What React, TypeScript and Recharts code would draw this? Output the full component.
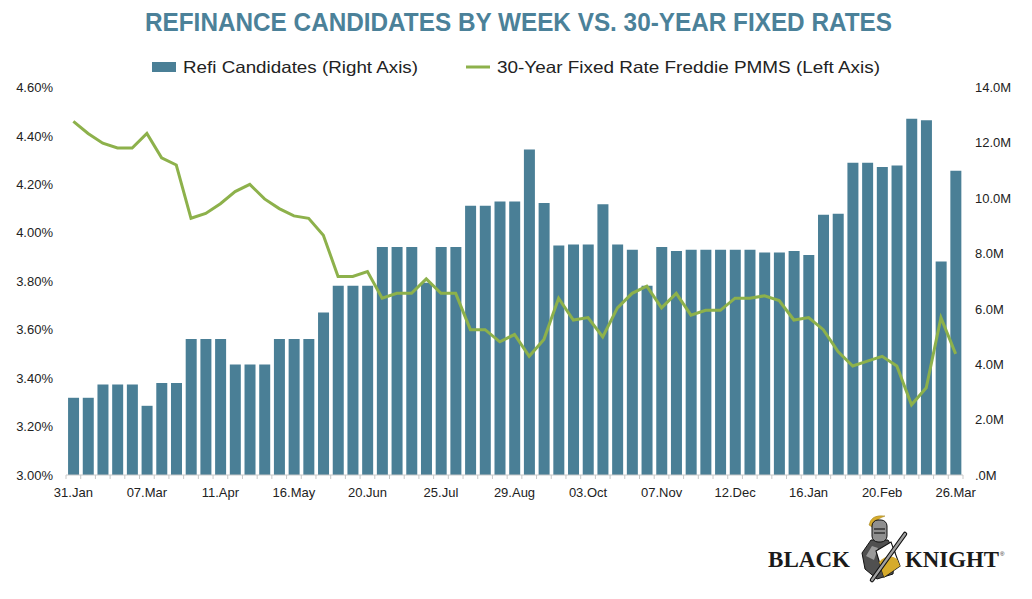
import React from "react";
import { ComposedChart, Bar, Line, XAxis, YAxis } from "recharts";

const weeks = [
  "31.Jan", "07.Feb", "14.Feb", "21.Feb", "28.Feb", "07.Mar", "14.Mar", "21.Mar", "28.Mar", "04.Apr",
  "11.Apr", "18.Apr", "25.Apr", "02.May", "09.May", "16.May", "23.May", "30.May", "06.Jun", "13.Jun",
  "20.Jun", "27.Jun", "04.Jul", "11.Jul", "18.Jul", "25.Jul", "01.Aug", "08.Aug", "15.Aug", "22.Aug",
  "29.Aug", "05.Sep", "12.Sep", "19.Sep", "26.Sep", "03.Oct", "10.Oct", "17.Oct", "24.Oct", "31.Oct",
  "07.Nov", "14.Nov", "21.Nov", "28.Nov", "05.Dec", "12.Dec", "19.Dec", "26.Dec", "02.Jan", "09.Jan",
  "16.Jan", "23.Jan", "30.Jan", "06.Feb", "13.Feb", "20.Feb", "27.Feb", "05.Mar", "12.Mar", "19.Mar",
  "26.Mar",
];

// Refi candidates, millions (right axis)
const refiCandidates = [
  2.79, 2.79, 3.27, 3.27, 3.27, 2.5, 3.32, 3.32, 4.91, 4.91,
  4.91, 3.99, 3.99, 3.99, 4.91, 4.91, 4.91, 5.87, 6.84, 6.84,
  6.84, 8.24, 8.24, 8.24, 6.95, 8.24, 8.24, 9.73, 9.73, 9.88,
  9.88, 11.76, 9.83, 8.29, 8.33, 8.33, 9.78, 8.33, 8.14, 6.84,
  8.24, 8.09, 8.14, 8.14, 8.14, 8.14, 8.14, 8.04, 8.04, 8.09,
  7.95, 9.4, 9.44, 11.28, 11.28, 11.13, 11.18, 12.87, 12.82, 7.71,
  10.99,
];

// 30-year fixed rate, percent (left axis)
const fixedRate = [
  4.46, 4.41, 4.37, 4.35, 4.35, 4.41, 4.31, 4.28, 4.06, 4.08,
  4.12, 4.17, 4.2, 4.14, 4.1, 4.07, 4.06, 3.99, 3.82, 3.82,
  3.84, 3.73, 3.75, 3.75, 3.81, 3.75, 3.75, 3.6, 3.6, 3.55,
  3.58, 3.49, 3.56, 3.73, 3.64, 3.65, 3.57, 3.69, 3.75, 3.78,
  3.69, 3.75, 3.66, 3.68, 3.68, 3.73, 3.73, 3.74, 3.72, 3.64,
  3.65, 3.6, 3.51, 3.45, 3.47, 3.49, 3.45, 3.29, 3.36, 3.65,
  3.5,
];

const leftTicks = [3.0, 3.2, 3.4, 3.6, 3.8, 4.0, 4.2, 4.4, 4.6];
const rightTicks = [0, 2, 4, 6, 8, 10, 12, 14];

const data = weeks.map((w, i) => ({ week: w, refi: refiCandidates[i], rate: fixedRate[i] }));

const W = 1032;
const H = 599;
const PLOT_LEFT = 66;
const PLOT_RIGHT = 963;
const PLOT_TOP = 87.5;
const PLOT_BOTTOM = 475;
const AXIS_W = 50;
const XAXIS_H = 30;
const BAND = (PLOT_RIGHT - PLOT_LEFT) / weeks.length;

const BAR_COLOR = "#4a7f96";
const LINE_COLOR = "#8db14b";
const TITLE_COLOR = "#4b8199";
const FONT = "'Liberation Sans', Arial, sans-serif";
const SERIF = "'Liberation Serif', 'DejaVu Serif', serif";

const XTick = (props: any) => {
  const { x, y, payload, index } = props;
  const show = index % 5 === 0;
  return (
    <g>
      <line x1={x - BAND / 2} x2={x - BAND / 2} y1={y} y2={y + 4} stroke="#c9c9c9" strokeWidth={1} />
      {index === weeks.length - 1 && (
        <line x1={x + BAND / 2} x2={x + BAND / 2} y1={y} y2={y + 4} stroke="#c9c9c9" strokeWidth={1} />
      )}
      {show && (
        <text x={x} y={y + 22} textAnchor="middle" fontSize={13} fill="#222" fontFamily={FONT}>
          {payload.value}
        </text>
      )}
    </g>
  );
};

const Logo = () => (
  <g>
    <text x={768} y={567} fontFamily={SERIF} fontWeight="bold" fontSize={23} fill="#1a1a1a" textLength={82} lengthAdjust="spacingAndGlyphs">
      BLACK
    </text>
    <text x={905} y={567} fontFamily={SERIF} fontWeight="bold" fontSize={23} fill="#1a1a1a" textLength={94} lengthAdjust="spacingAndGlyphs">
      KNIGHT
    </text>
    <text x={1000} y={556} fontFamily={FONT} fontSize={6} fill="#1a1a1a">®</text>
    {/* plume */}
    <path d="M869 525 Q871 514 885 516 Q879 518 877 521 Q873 520 872 527 Z" fill="#d6ab2c" stroke="#9a7a14" strokeWidth={0.5} />
    {/* body armour */}
    <path d="M862 553 L871 540 L888 540 L895 552 L893 574 L877 579 L865 569 Z" fill="#505050" stroke="#111" strokeWidth={1} />
    <path d="M866 556 L872 546 L878 548 L874 560 Z" fill="#9a9a9a" />
    {/* helmet */}
    <rect x={872} y={520} width={15} height={22} rx={6} fill="#8f8f8f" stroke="#111" strokeWidth={1} />
    <line x1={874} y1={529} x2={885} y2={529} stroke="#111" strokeWidth={1.1} />
    <line x1={874} y1={533} x2={885} y2={533} stroke="#111" strokeWidth={1.1} />
    {/* shield */}
    <path d="M876 551 L891 542 L900 566 L884 577 Z" fill="#ffffff" stroke="#111" strokeWidth={1.1} />
    <path d="M879 562 Q888 553 897 559 L900 566 L884 577 Z" fill="#d6ab2c" />
    {/* sword */}
    <line x1={905} y1={534} x2={872} y2={580} stroke="#111" strokeWidth={4.5} strokeLinecap="round" />
    <line x1={905} y1={534} x2={872} y2={580} stroke="#a0a0a0" strokeWidth={2.2} strokeLinecap="round" />
  </g>
);

export default function App() {
  return (
    <div style={{ position: "absolute", left: 0, top: 0, width: W, height: H, background: "#fff" }}>
      <ComposedChart
        width={W}
        height={H}
        data={data}
        margin={{
          top: PLOT_TOP,
          right: W - PLOT_RIGHT - AXIS_W,
          bottom: H - PLOT_BOTTOM - XAXIS_H,
          left: PLOT_LEFT - AXIS_W,
        }}
        barCategoryGap="14%"
      >
        <XAxis
          dataKey="week"
          interval={0}
          height={XAXIS_H}
          tickLine={false}
          tickSize={0}
          tickMargin={0}
          axisLine={{ stroke: "#c9c9c9" }}
          tick={<XTick />}
        />
        <YAxis
          yAxisId="left"
          orientation="left"
          width={AXIS_W}
          domain={[3.0, 4.6]}
          ticks={leftTicks}
          tickFormatter={(v: number) => v.toFixed(2) + "%"}
          axisLine={false}
          tickLine={false}
          tickSize={0}
          tickMargin={13}
          tick={{ fontSize: 13, fill: "#222", fontFamily: FONT }}
        />
        <YAxis
          yAxisId="right"
          orientation="right"
          width={AXIS_W}
          domain={[0, 14]}
          ticks={rightTicks}
          tickFormatter={(v: number) => (v === 0 ? ".0M" : v.toFixed(1) + "M")}
          axisLine={false}
          tickLine={false}
          tickSize={0}
          tickMargin={12}
          tick={{ fontSize: 13, fill: "#222", fontFamily: FONT, textAnchor: "start" }}
        />
        <Bar yAxisId="right" dataKey="refi" fill={BAR_COLOR} isAnimationActive={false} />
        <Line
          yAxisId="left"
          dataKey="rate"
          type="linear"
          stroke={LINE_COLOR}
          strokeWidth={3}
          dot={false}
          activeDot={false}
          isAnimationActive={false}
        />
      </ComposedChart>
      <svg width={W} height={H} style={{ position: "absolute", left: 0, top: 0, pointerEvents: "none" }}>
        <text
          x={145}
          y={31}
          fontFamily="'Liberation Sans Narrow', 'Liberation Sans', Arial, sans-serif"
          fontWeight="bold"
          fontSize={25}
          fill={TITLE_COLOR}
          textLength={747}
          lengthAdjust="spacingAndGlyphs"
        >
          REFINANCE CANDIDATES BY WEEK VS. 30-YEAR FIXED RATES
        </text>
        <rect x={152} y={62} width={24} height={10} fill={BAR_COLOR} />
        <text x={183} y={73} fontFamily={FONT} fontSize={16.5} fill="#222" textLength={235} lengthAdjust="spacingAndGlyphs">
          Refi Candidates (Right Axis)
        </text>
        <line x1={466} x2={490} y1={67} y2={67} stroke={LINE_COLOR} strokeWidth={3} />
        <text x={497} y={73} fontFamily={FONT} fontSize={16.5} fill="#222" textLength={383} lengthAdjust="spacingAndGlyphs">
          30-Year Fixed Rate Freddie PMMS (Left Axis)
        </text>
        <Logo />
      </svg>
    </div>
  );
}
